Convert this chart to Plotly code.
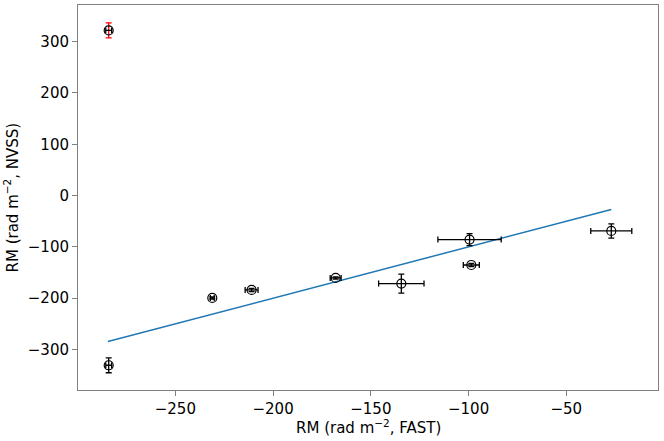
import plotly.graph_objects as go

# Data
rm_fast = [-284.1, -284.1, -231.1, -211.0, -168.0, -134.4, -99.5, -98.6, -27.0]
rm_nvss = [322.0, -330.8, -199.6, -184.0, -160.6, -171.6, -85.8, -135.3, -69.0]
err_fast = [1.5, 1.5, 1.0, 3.3, 2.8, 11.6, 16.2, 4.1, 10.5]
err_nvss = [14.6, 14.6, 2.0, 3.0, 2.0, 18.5, 11.7, 3.0, 14.0]
line_x = [-284.5, -27.0]
line_y = [-284.5, -27.0]

fig = go.Figure()

fig.add_trace(go.Scatter(
    x=line_x, y=line_y, mode="lines",
    line=dict(color="#1f77b4", width=1.5), showlegend=False, hoverinfo="skip"))

# black points (all but the first)
fig.add_trace(go.Scatter(
    x=rm_fast[1:], y=rm_nvss[1:], mode="markers",
    marker=dict(symbol="circle-open", size=9, color="black", line=dict(width=1.2)),
    error_x=dict(type="data", array=err_fast[1:], color="black", thickness=1.3, width=3),
    error_y=dict(type="data", array=err_nvss[1:], color="black", thickness=1.3, width=3),
    showlegend=False))

# first point with red NVSS error bar
fig.add_trace(go.Scatter(
    x=rm_fast[:1], y=rm_nvss[:1], mode="markers",
    marker=dict(symbol="circle-open", size=9, color="black", line=dict(width=1.2)),
    error_x=dict(type="data", array=err_fast[:1], color="black", thickness=1.3, width=3),
    error_y=dict(type="data", array=err_nvss[:1], color="red", thickness=1.3, width=3),
    showlegend=False))

axis_common = dict(
    showgrid=False, zeroline=False, showline=True, linecolor="#808080", linewidth=1,
    mirror=True, ticks="outside", ticklen=5, tickcolor="#808080", tickwidth=1,
    tickfont=dict(family="DejaVu Sans", size=15, color="black"), automargin=False,
)

fig.update_xaxes(
    range=[-299.8, -3.1], tickvals=[-250, -200, -150, -100, -50],
    ticktext=["\u2212250", "\u2212200", "\u2212150", "\u2212100", "\u221250"],
    **axis_common)
fig.update_yaxes(
    range=[-379, 371.5], tickvals=[-300, -200, -100, 0, 100, 200, 300],
    ticktext=["\u2212300", "\u2212200", "\u2212100", "0", "100", "200", "300"],
    **axis_common)

title_font = dict(family="DejaVu Sans", size=15, color="black")
fig.add_annotation(
    text="RM (rad m<sup>\u22122</sup>, FAST)", xref="paper", yref="paper",
    x=0.5, y=0, xanchor="center", yanchor="top", yshift=-25,
    showarrow=False, font=title_font)
fig.add_annotation(
    text="RM (rad m<sup>\u22122</sup>, NVSS)", xref="paper", yref="paper",
    x=0, y=0.5, xanchor="right", yanchor="middle", xshift=-55, textangle=-90,
    showarrow=False, font=title_font)

fig.update_layout(
    width=664, height=441,
    margin=dict(l=78, r=6, t=5, b=51),
    plot_bgcolor="white", paper_bgcolor="white",
)

fig.write_html("out.html", config={"displayModeBar": False},
               post_script="document.body.style.margin='0';")
